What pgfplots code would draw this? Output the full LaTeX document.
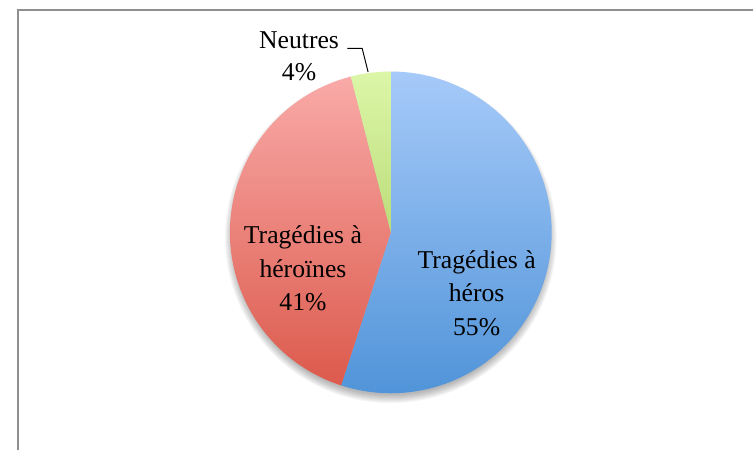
\documentclass[border=0pt]{standalone}
\usepackage{pgfplots}
\pgfplotsset{compat=1.18}
\usepackage{pgfplotstable}
\usepackage{fontspec}
\setmainfont{Liberation Serif}

\definecolor{bluetop}{HTML}{A6CAF9}
\definecolor{bluebot}{HTML}{4F93D8}
\definecolor{redtop}{HTML}{F9AAA8}
\definecolor{redbot}{HTML}{DC5A4C}
\definecolor{greentop}{HTML}{DCF6A8}
\definecolor{greenbot}{HTML}{BCDD7A}
\definecolor{framegray}{HTML}{8F8F8F}

% shares in percent: Tragedies a heros, Tragedies a heroines, Neutres
\pgfplotstableread{
share
55
41
4
}\piedata

\begin{document}
\pgfplotstablegetelem{0}{share}\of\piedata \let\va\pgfplotsretval
\pgfplotstablegetelem{1}{share}\of\piedata \let\vb\pgfplotsretval
\pgfplotstablegetelem{2}{share}\of\piedata \let\vc\pgfplotsretval
\pgfmathsetmacro\aA{90}
\pgfmathsetmacro\aB{90-3.6*\va}
\pgfmathsetmacro\aC{\aB-3.6*\vb}
\pgfmathsetmacro\aD{\aC-3.6*\vc}
\begin{tikzpicture}
\useasboundingbox (0,0) rectangle (753pt,455pt);
\begin{axis}[
  overlay,
  at={(0,0)}, anchor=origin,
  x=1pt, y=1pt,
  xmin=0, xmax=753, ymin=0, ymax=455,
  hide axis, clip=false,
]
% frame
\draw[line width=1.5pt, framegray] (axis cs:8,-5) -- (axis cs:8,445) -- (axis cs:760,445);
% shadow
\pgfplotsinvokeforeach{0,...,8}{
  \fill[black, opacity=0.035] (axis cs:386,214.5) circle[radius={(160+#1)*1pt}];
}
% slices
\path[top color=bluetop, bottom color=bluebot]
  (axis cs:386,219.5) -- +(\aA:163pt) arc[start angle=\aA, end angle=\aB, radius=163pt] -- cycle;
\path[top color=redtop, bottom color=redbot]
  (axis cs:386,219.5) -- +(\aB:163pt) arc[start angle=\aB, end angle=\aC, radius=163pt] -- cycle;
\path[top color=greentop, bottom color=greenbot]
  (axis cs:386,219.5) -- +(\aC:163pt) arc[start angle=\aC, end angle=\aD, radius=163pt] -- cycle;
% labels
\node[align=center, font=\rmfamily\fontsize{26}{34}\selectfont] at (axis cs:473,158) {Tragédies à\\héros\\55\%};
\node[align=center, font=\rmfamily\fontsize{26}{34}\selectfont] at (axis cs:297,183) {Tragédies à\\héroïnes\\41\%};
\node[align=center, font=\rmfamily\fontsize{26}{32}\selectfont] at (axis cs:293,398) {Neutres\\4\%};
\draw[line width=1pt] (axis cs:342,406) -- (axis cs:357,406) -- (axis cs:363,382);
\end{axis}
\end{tikzpicture}
\end{document}
